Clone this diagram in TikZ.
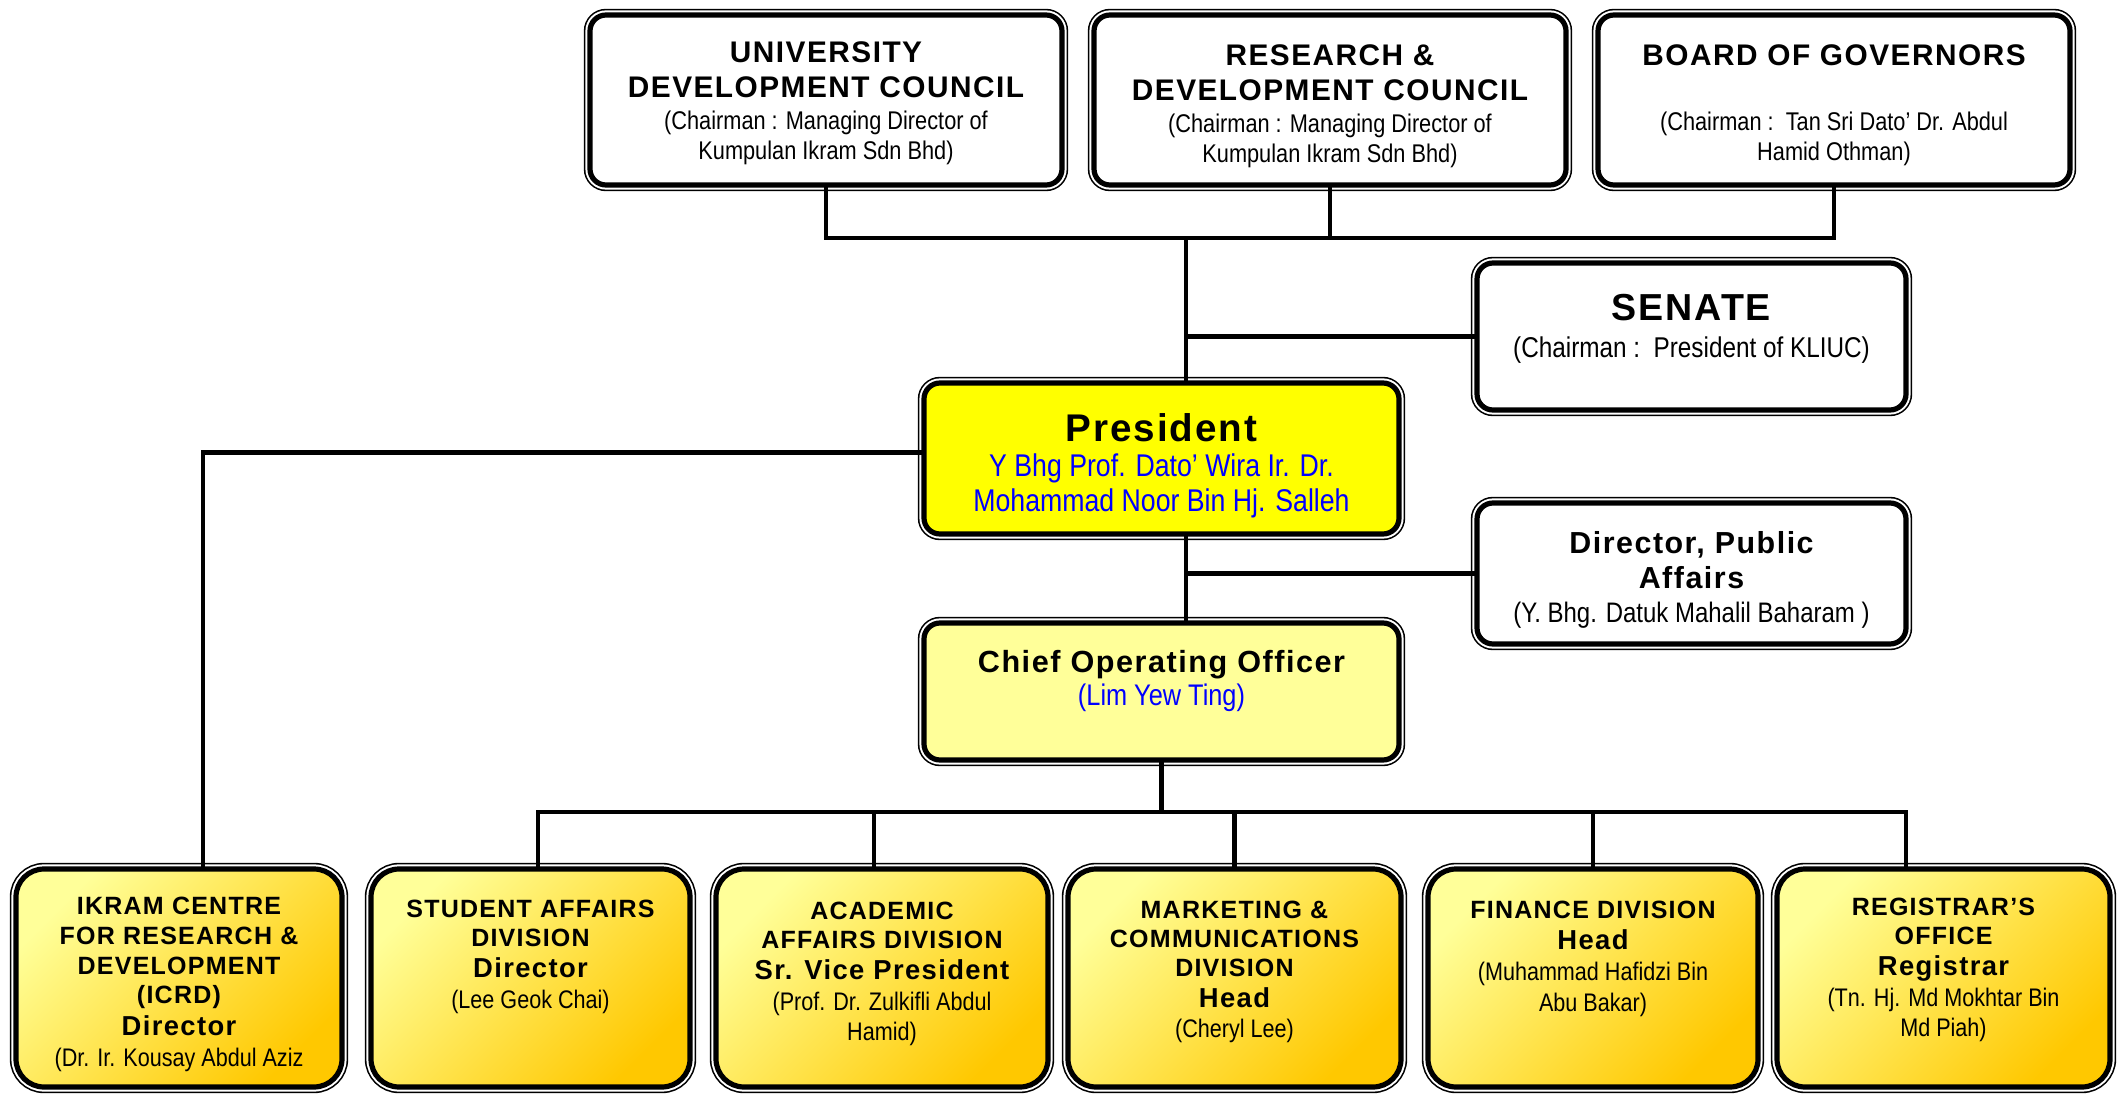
\documentclass[tikz,border=0pt]{standalone}
\usepackage{fontspec}
\setmainfont{Liberation Sans}
\newfontfamily\ttlfont{Liberation Sans}[LetterSpace=5]
\newfontfamily\nmfont{Liberation Sans}[FakeStretch=0.85]

\definecolor{presyellow}{HTML}{FFFF00}
\definecolor{cooyellow}{HTML}{FFFF99}
\definecolor{paleyellow}{HTML}{FFFF99}
\definecolor{midyellow}{HTML}{FFEB70}
\definecolor{goldyellow}{HTML}{FFC800}

%%%% box body: width, height, top gap, lines
\newcommand{\boxbody}[4]{\parbox[c][#2][t]{#1}{\centering\vspace*{#3}#4}}
\newcommand{\ttl}[2]{\ttlfont\bfseries\fontsize{#1}{#2}\selectfont}
\newcommand{\nm}[2]{\nmfont\fontsize{#1}{#2}\selectfont}

\tikzset{
  unit/.style={draw=black, line width=2.6pt, rounded corners=8pt, inner sep=0pt, outer sep=0pt,
    preaction={draw=black, line width=6.2pt},
    preaction={draw=white, line width=4.6pt}},
  division/.style={unit, rounded corners=14pt, shade, shading=axis, top color=paleyellow,
    middle color=midyellow, bottom color=goldyellow, shading angle=45},
  link/.style={line width=2.4pt}
}

\begin{document}
\begin{tikzpicture}[x=0.5pt, y=-0.5pt]
\useasboundingbox (0,0) rectangle (2121,1096);

%%%% Councils:
\node[unit, fill=white] (udc) at (826,100) {\boxbody{236pt}{85pt}{13.5pt}{%
  {\ttl{14.9}{17.5}UNIVERSITY\par DEVELOPMENT COUNCIL\par}\vspace{1pt}%
  {\nm{12.8}{15}(Chairman : Managing Director of\par Kumpulan Ikram Sdn Bhd)\par}}};
\node[unit, fill=white] (rdc) at (1330,100) {\boxbody{236pt}{85pt}{15pt}{%
  {\ttl{14.9}{17.5}RESEARCH \&\par DEVELOPMENT COUNCIL\par}\vspace{1pt}%
  {\nm{12.8}{15}(Chairman : Managing Director of\par Kumpulan Ikram Sdn Bhd)\par}}};
\node[unit, fill=white] (bog) at (1834,100) {\boxbody{236pt}{85pt}{15pt}{%
  {\ttl{14.9}{17.5}BOARD OF GOVERNORS\par}\vspace{17.5pt}%
  {\nm{12.8}{15}(Chairman :\ \ Tan Sri Dato’ Dr. Abdul\par Hamid Othman)\par}}};

%%%% Senate and public affairs:
\node[unit, fill=white] (senate) at (1691.5,336.5) {\boxbody{214.5pt}{73.5pt}{15.5pt}{%
  {\ttl{18.8}{20}SENATE\par}%
  {\nm{14.3}{18.5}(Chairman :\ \ President of KLIUC)\par}}};
\node[unit, fill=white] (dpa) at (1691.5,573.5) {\boxbody{214.5pt}{70.5pt}{14pt}{%
  {\ttl{15.2}{17.5}Director, Public\par Affairs\par}%
  {\nm{14.1}{17}(Y. Bhg. Datuk Mahalil Baharam )\par}}};

%%%% President and COO:
\node[unit, fill=presyellow] (pres) at (1161.5,458.5) {\boxbody{237.5pt}{75.5pt}{15.2pt}{%
  {\ttl{19.3}{20}President\par}%
  {\nm{15.7}{17.5}\color{blue}Y Bhg Prof. Dato’ Wira Ir. Dr.\par Mohammad Noor Bin Hj. Salleh\par}}};
\node[unit, fill=cooyellow] (coo) at (1161.5,691.5) {\boxbody{237.5pt}{68.5pt}{13.5pt}{%
  {\ttl{15.3}{17}Chief Operating Officer\par}%
  {\nm{14.9}{16.5}\color{blue}(Lim Yew Ting)\par}}};

%%%% Divisions:
\node[division] (icrd) at (179,978) {\boxbody{163pt}{109pt}{14pt}{%
  {\ttl{12.5}{14.9}IKRAM CENTRE\par FOR RESEARCH \&\par DEVELOPMENT\par (ICRD)\par}%
  {\ttl{13.7}{16}Director\par}%
  {\nm{12.7}{15.3}(Dr. Ir. Kousay Abdul Aziz\par}}};
\node[division] (sad) at (530.5,978) {\boxbody{159.5pt}{109pt}{15.4pt}{%
  {\ttl{12.5}{14.6}STUDENT AFFAIRS\par DIVISION\par}%
  {\ttl{13.7}{15.5}Director\par}%
  {\nm{12.7}{15.3}(Lee Geok Chai)\par}}};
\node[division] (aad) at (882,978) {\boxbody{166pt}{109pt}{16.4pt}{%
  {\ttl{12.5}{14.6}ACADEMIC\par AFFAIRS DIVISION\par}%
  {\ttl{13.7}{15.5}Sr. Vice President\par}%
  {\nm{12.7}{15.3}(Prof. Dr. Zulkifli Abdul\par Hamid)\par}}};
\node[division] (mcd) at (1234.5,978) {\boxbody{166.5pt}{109pt}{16pt}{%
  {\ttl{12.5}{14.6}MARKETING \&\par COMMUNICATIONS\par DIVISION\par}%
  {\ttl{13.7}{15.5}Head\par}%
  {\nm{12.7}{15}(Cheryl Lee)\par}}};
\node[division] (fin) at (1593,978) {\boxbody{165pt}{109pt}{16.2pt}{%
  {\ttl{12.5}{14.6}FINANCE DIVISION\par}%
  {\ttl{13.7}{15.5}Head\par}%
  {\nm{12.7}{15.3}(Muhammad Hafidzi Bin\par Abu Bakar)\par}}};
\node[division] (reg) at (1943.5,978) {\boxbody{166.5pt}{109pt}{14.4pt}{%
  {\ttl{12.5}{14.6}REGISTRAR’S\par OFFICE\par}%
  {\ttl{13.7}{15.5}Registrar\par}%
  {\nm{12.7}{15.3}(Tn. Hj. Md Mokhtar Bin\par Md Piah)\par}}};

%%%% Connectors:
\coordinate (topbus) at (1186,238);
\coordinate (bus) at (0,812);
\draw[link] (udc.south) |- (topbus);
\draw[link] (bog.south) |- (topbus);
\draw[link] (rdc.south) -- (rdc.south |- topbus);
\draw[link] (topbus) -- (topbus |- pres.north);
\draw[link] (topbus |- senate.west) -- (senate.west);
\draw[link] (topbus |- pres.south) -- (topbus |- coo.north);
\draw[link] (topbus |- dpa.west) -- (dpa.west);
\draw[link] ([yshift=3pt]pres.west) -| ([xshift=12pt]icrd.north);
\draw[link] (coo.south) -- (coo.south |- bus);
\coordinate (sadtop) at ([xshift=3.75pt]sad.north);
\coordinate (regtop) at ([xshift=-18.75pt]reg.north);
\draw[link] (sadtop) |- (regtop |- bus) -- (regtop);
\foreach \n/\s in {aad/-4pt, mcd/0pt, fin/0pt} {
  \coordinate (drop) at ([xshift=\s]\n.north);
  \draw[link] (drop) -- (drop |- bus);
}
\end{tikzpicture}
\end{document}
